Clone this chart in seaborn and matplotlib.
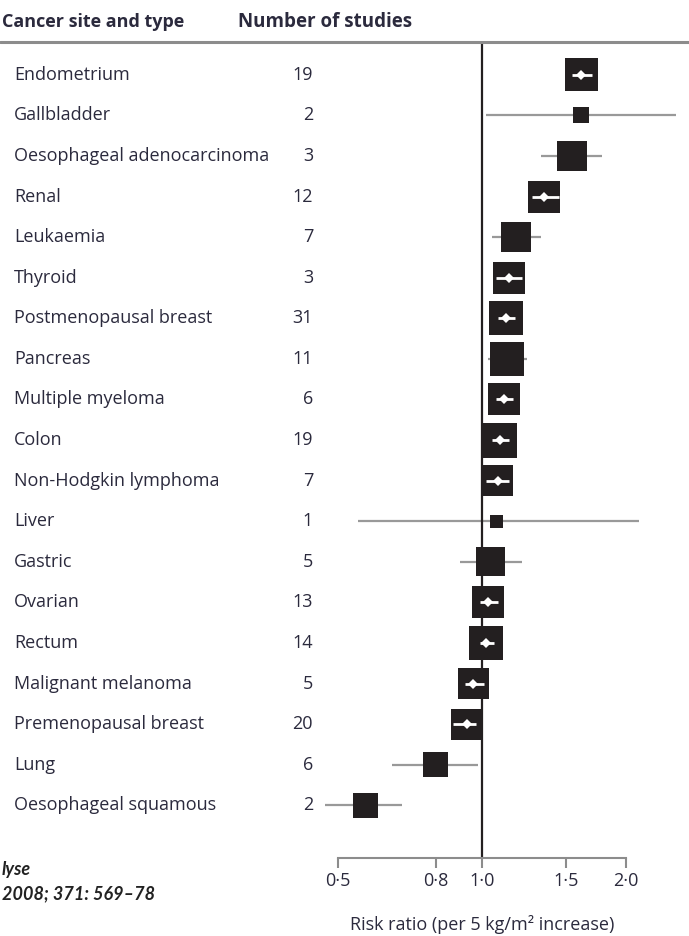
import matplotlib
matplotlib.use("Agg")
import matplotlib.pyplot as plt
import matplotlib.transforms as mtransforms
from matplotlib.lines import Line2D
from matplotlib.ticker import NullLocator
import numpy as np
import pandas as pd
import seaborn as sns

# ---------------------------------------------------------------------------
# Data
# ---------------------------------------------------------------------------
sites = [
    "Endometrium", "Gallbladder", "Oesophageal adenocarcinoma", "Renal",
    "Leukaemia", "Thyroid", "Postmenopausal breast", "Pancreas",
    "Multiple myeloma", "Colon", "Non-Hodgkin lymphoma", "Liver", "Gastric",
    "Ovarian", "Rectum", "Malignant melanoma", "Premenopausal breast", "Lung",
    "Oesophageal squamous",
]
n_studies = [19, 2, 3, 12, 7, 3, 31, 11, 6, 19, 7, 1, 5, 13, 14, 5, 20, 6, 2]
risk_ratio = [1.61, 1.61, 1.54, 1.35, 1.18, 1.14, 1.12, 1.13, 1.11, 1.09,
              1.08, 1.07, 1.04, 1.03, 1.02, 0.96, 0.93, 0.80, 0.57]
ci_low = [1.54, 1.02, 1.33, 1.27, 1.05, 1.07, 1.08, 1.03, 1.07, 1.05,
          1.02, 0.55, 0.90, 0.99, 0.99, 0.92, 0.87, 0.65, 0.47]
ci_high = [1.70, 2.54, 1.78, 1.45, 1.33, 1.21, 1.17, 1.24, 1.16, 1.14,
           1.14, 2.13, 1.21, 1.08, 1.06, 1.01, 0.97, 0.98, 0.68]
# relative study weight (drawn as the side of the square)
study_weight = [33, 16, 30, 32, 30, 32, 34, 34, 32, 35,
                31, 13, 29, 32, 34, 31, 31, 25, 25]

tick_values = [0.5, 0.8, 1.0, 1.5, 2.0]
tick_labels = ["0·5", "0·8", "1·0", "1·5", "2·0"]

# ---------------------------------------------------------------------------
# Figure
# ---------------------------------------------------------------------------
sns.set_style("white")
plt.rcParams["font.family"] = ["Open Sans", "DejaVu Sans"]

TEXT = "#2b2a3d"
BOX = "#231f20"
GREY = "#8c8c8c"

W, H = 689, 936
fig = plt.figure(figsize=(W / 100, H / 100), dpi=100)
ax = fig.add_axes([300 / W, (H - 858) / H, 389 / W, (858 - 42) / H])
ax.set_xscale("log")
ax.set_xlim(0.417, 2.705)
ax.set_ylim(19.3, -0.81)

df = pd.DataFrame({
    "site": sites, "n": n_studies, "rr": risk_ratio,
    "lo": ci_low, "hi": ci_high, "w": study_weight,
})
df["row"] = np.arange(len(df))
df["area"] = (df["w"] * 0.72) ** 2   # px -> pt, squared for scatter size

# confidence intervals (grey, below the boxes)
for _, r in df.iterrows():
    ax.plot([r.lo, r.hi], [r.row, r.row], color="#999999", lw=1.6,
            solid_capstyle="butt", zorder=1)

ax.axvline(1.0, color=BOX, lw=1.6, zorder=1.8)

sns.scatterplot(
    data=df, x="rr", y="row", size="area",
    sizes=(df["area"].min(), df["area"].max()),
    marker="s", color=BOX, linewidth=0, legend=False, ax=ax, zorder=2,
)

# CI drawn in white where it fits inside its box
k = ax.transData.transform([(np.e, 0)])[0, 0] - ax.transData.transform([(1, 0)])[0, 0]
for _, r in df.iterrows():
    half = r.w / 2
    box_lo = r.rr * np.exp(-half / k)
    box_hi = r.rr * np.exp(half / k)
    if r.lo >= r.rr * np.exp(-(half + 1) / k) and r.hi <= r.rr * np.exp((half + 1) / k):
        ax.plot([max(r.lo, box_lo), min(r.hi, box_hi)], [r.row, r.row],
                color="white", lw=2, solid_capstyle="butt", zorder=3)
        ax.plot(r.rr, r.row, marker="D", ms=5.5, color="white", mew=0, zorder=4)

# axis styling
for side in ["top", "right", "left"]:
    ax.spines[side].set_visible(False)
ax.spines["bottom"].set_bounds(0.5, 2.0)
ax.spines["bottom"].set_color(GREY)
ax.spines["bottom"].set_linewidth(1.5)
ax.set_xticks(tick_values)
ax.set_xticklabels(tick_labels)
ax.xaxis.set_minor_locator(NullLocator())
ax.tick_params(axis="x", bottom=True, direction="out", length=7, width=1.5,
               color=GREY, labelsize=13, labelcolor=TEXT, pad=3)
ax.set_yticks([])
ax.set_xlabel("")
ax.set_ylabel("")

# left-hand text columns
trans = mtransforms.blended_transform_factory(fig.transFigure, ax.transData)
for _, r in df.iterrows():
    ax.text(14 / W, r.row, r.site, transform=trans, ha="left", va="center",
            fontsize=13, color=TEXT)
    ax.text(313 / W, r.row, str(r.n), transform=trans, ha="right", va="center",
            fontsize=13, color=TEXT)

# headers and rule
fig.text(2 / W, 1 - 22 / H, "Cancer site and type", ha="left", va="center",
         fontsize=13, fontweight="bold", color=TEXT)
fig.text(238 / W, 1 - 22 / H, "Number of studies", ha="left", va="center",
         fontsize=13.5, fontweight="bold", color=TEXT)
fig.add_artist(Line2D([0, 1], [1 - 42 / H, 1 - 42 / H], color=GREY, lw=2.2,
                      transform=fig.transFigure))

fig.text(482 / W, 1 - 925 / H, "Risk ratio (per 5 kg/m² increase)", ha="center",
         va="center", fontsize=13, color=TEXT)

# source note (only the part visible in the original)
fig.text(2 / W, 1 - 870 / H, "lyse", ha="left", va="center",
         fontsize=13, fontweight="bold", style="italic", family="Lato",
         color="#222222")
fig.text(2 / W, 1 - 894 / H, "2008; 371: 569–78", ha="left", va="center",
         fontsize=13, fontweight="bold", style="italic", family="Lato",
         color="#222222")

fig.savefig("out.png", dpi=100)
